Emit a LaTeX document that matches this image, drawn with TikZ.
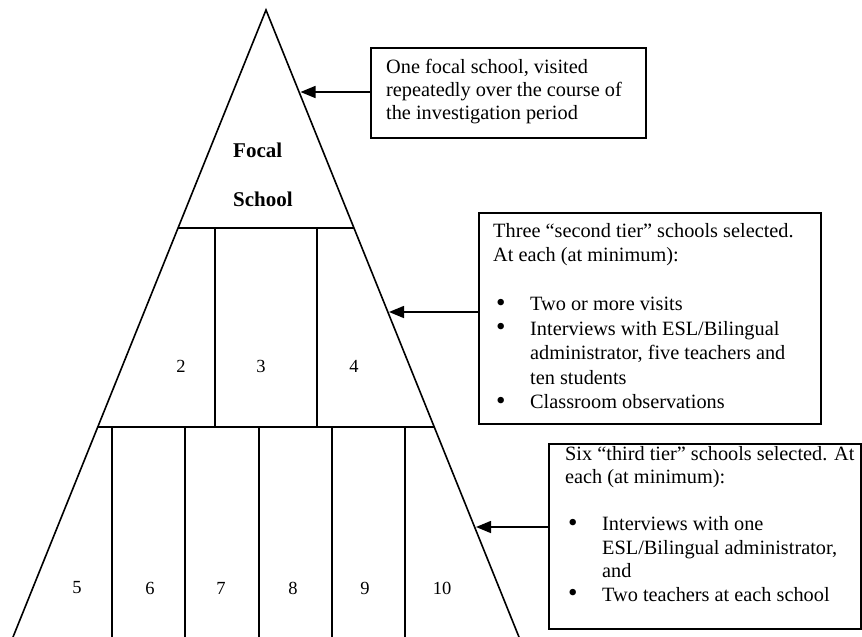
\documentclass[tikz,border=0pt]{standalone}
\usepackage{fontspec}
\setmainfont{Liberation Serif}
\usetikzlibrary{arrows.meta}
\newcommand\bulletrow{\makebox[37pt][l]{\hspace{3pt}\raisebox{-0.5pt}{\fontsize{27}{23}\selectfont\textbullet}}}
\newcommand\controw{\makebox[37pt]{}}
\begin{document}
\begin{tikzpicture}[x=1pt,y=-1pt,
  edge/.style={line width=1.6pt, line join=miter},
  divider/.style={line width=1.5pt},
  infobox/.style={draw, line width=1.5pt, anchor=north west, inner sep=0pt},
  boxtext/.style={anchor=north west, inner sep=0pt, align=left},
  num/.style={font=\fontsize{18.5}{20}\selectfont, inner sep=0pt},
  lbl/.style={font=\fontsize{21}{24}\selectfont\bfseries, anchor=west, inner sep=0pt},
  pointer/.style={line width=1.5pt, -{Triangle[length=15pt,width=12pt]}}]

\useasboundingbox (0,0) rectangle (862,637);
\clip (0,0) rectangle (862,637);

% pyramid
\coordinate (apex) at (266,10);
\coordinate (bl) at (9.8,645);
\coordinate (br) at (522.2,645);
\draw[edge] (bl) -- (apex) -- (br);

% tier dividers
\coordinate (l1) at (178,228);  \coordinate (r1) at (354,228);
\coordinate (l2) at (97.7,427); \coordinate (r2) at (434.3,427);
\draw[divider] (l1) -- (r1);
\draw[divider] (l2) -- (r2);
\foreach \x in {215,317} \draw[divider] (\x,228) -- (\x,427);
\foreach \x in {112,185,259,332,405} \draw[divider] (\x,427) -- (\x,645);

% labels inside pyramid
\node[lbl] (focal) at (233,150) {Focal};
\node[lbl] (school) at (233,199) {School};
\node[num] (n2) at (181,366) {2};
\node[num] (n3) at (261,366) {3};
\node[num] (n4) at (354,366) {4};
\node[num] (n5) at (77,588) {5};
\node[num] (n6) at (150,588) {6};
\node[num] (n7) at (221,588) {7};
\node[num] (n8) at (293,588) {8};
\node[num] (n9) at (365,588) {9};
\node[num] (n10) at (442,588) {10};

% boxes
\node[infobox, minimum width=275pt, minimum height=90pt] (box1) at (370,47) {};
\node[infobox, minimum width=342pt, minimum height=211pt] (box2) at (478,212) {};
\node[infobox, minimum width=312pt, minimum height=185pt] (box3) at (548,443) {};

\node[boxtext, font=\fontsize{20.3}{23}\selectfont] (txt1) at (386,59)
  {One focal school, visited\\repeatedly over the course of\\the investigation period};

\node[boxtext, font=\fontsize{20.3}{24.5}\selectfont] (txt2) at (493,223)
  {Three “second tier” schools selected.\\At each (at minimum):\\[24.5pt]
   \bulletrow Two or more visits\\
   \bulletrow Interviews with ESL/Bilingual\\
   \controw administrator, five teachers and\\
   \controw ten students\\
   \bulletrow Classroom observations};

\node[boxtext, font=\fontsize{20.3}{23.5}\selectfont] (txt3) at (565,446)
  {Six “third tier” schools selected. At\\each (at minimum):\\[23.5pt]
   \bulletrow Interviews with one\\
   \controw ESL/Bilingual administrator,\\
   \controw and\\
   \bulletrow Two teachers at each school};

% pointers
\coordinate (t1) at (300.5,92);
\coordinate (t2) at (389,312);
\coordinate (t3) at (476,527);
\draw[pointer] (box1.west |- t1) -- (t1);
\draw[pointer] (box2.west |- t2) -- (t2);
\draw[pointer] (box3.west |- t3) -- (t3);
\end{tikzpicture}
\end{document}
